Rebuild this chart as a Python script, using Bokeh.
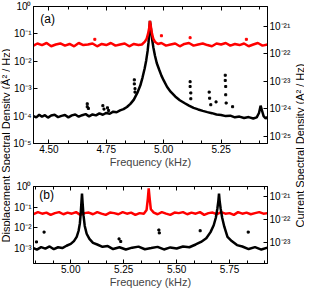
import math
from bokeh.plotting import figure
from bokeh.models import Range1d, LogScale, LogAxis, LinearAxis, FixedTicker, Label
from bokeh.layouts import row, column
from bokeh.embed import file_html
from bokeh.resources import INLINE

FONT = "Liberation Sans"
CUR_UNIT = 1e-22  # current PSD values below are given in units of 1e-22 A^2/Hz

# ---------------- panel (a) ----------------
freq_a = [4.433, 4.445, 4.458, 4.470, 4.483, 4.496, 4.510, 4.525, 4.540, 4.555,
          4.570, 4.585, 4.600, 4.615, 4.630, 4.645, 4.660, 4.675, 4.690, 4.705,
          4.720, 4.735, 4.750, 4.765, 4.780, 4.795, 4.810, 4.825, 4.840, 4.855,
          4.870, 4.885, 4.898, 4.908, 4.917, 4.924, 4.930, 4.934, 4.937, 4.940,
          4.943, 4.946, 4.950, 4.955, 4.962, 4.970, 4.980, 4.990, 5.000, 5.015,
          5.030, 5.050, 5.070, 5.090, 5.110, 5.130, 5.150, 5.170, 5.190, 5.210,
          5.230, 5.250, 5.270, 5.290, 5.310, 5.330, 5.350, 5.370, 5.390, 5.405,
          5.415, 5.422, 5.428, 5.435, 5.444, 5.452]
disp_a = [1.00e-4, 0.90e-4, 1.12e-4, 0.95e-4, 1.08e-4, 0.88e-4, 1.05e-4, 1.12e-4, 0.92e-4, 1.02e-4,
          1.10e-4, 0.90e-4, 1.06e-4, 1.14e-4, 0.95e-4, 1.08e-4, 1.18e-4, 0.98e-4, 1.15e-4, 1.06e-4,
          1.26e-4, 1.12e-4, 1.30e-4, 1.22e-4, 1.45e-4, 1.38e-4, 1.62e-4, 1.80e-4, 2.15e-4, 2.80e-4,
          4.0e-4, 7.0e-4, 1.3e-3, 2.6e-3, 5.5e-3, 1.1e-2, 2.4e-2, 5.0e-2, 0.12, 0.30,
          0.20, 0.11, 0.06, 3.2e-2, 1.6e-2, 8.5e-3, 5.0e-3, 3.0e-3, 2.0e-3, 1.15e-3,
          7.8e-4, 5.2e-4, 3.8e-4, 3.0e-4, 2.4e-4, 2.0e-4, 1.75e-4, 1.55e-4, 1.40e-4, 1.28e-4,
          1.15e-4, 1.10e-4, 1.00e-4, 1.04e-4, 0.90e-4, 0.96e-4, 0.85e-4, 0.92e-4, 0.82e-4, 0.90e-4,
          1.3e-4, 2.4e-4, 1.6e-4, 1.0e-4, 0.82e-4, 0.92e-4]
freq_ra = [4.433, 4.450, 4.470, 4.490, 4.510, 4.530, 4.550, 4.570, 4.590, 4.610,
           4.630, 4.650, 4.670, 4.690, 4.710, 4.730, 4.750, 4.770, 4.790, 4.810,
           4.830, 4.850, 4.870, 4.890, 4.905, 4.918, 4.926, 4.932, 4.937, 4.940,
           4.944, 4.949, 4.955, 4.963, 4.975, 4.990, 5.010, 5.030, 5.050, 5.070,
           5.090, 5.110, 5.130, 5.150, 5.170, 5.190, 5.210, 5.230, 5.250, 5.270,
           5.290, 5.310, 5.330, 5.350, 5.370, 5.390, 5.410, 5.430, 5.452]
cur_a = [2.0, 2.4, 2.1, 2.5, 1.9, 2.2, 2.4, 2.0, 2.3, 1.9,
         2.5, 2.1, 2.2, 2.4, 1.9, 2.3, 2.1, 2.5, 2.0, 2.2,
         2.4, 1.9, 2.3, 2.1, 2.2, 2.8, 3.6, 5.5, 9.0, 16.0,
         10.0, 5.5, 3.5, 2.7, 2.3, 2.5, 2.0, 2.2, 2.4, 1.9,
         2.3, 2.5, 2.0, 2.2, 2.4, 2.1, 1.9, 2.4, 2.2, 2.5,
         2.0, 2.3, 2.1, 2.4, 1.9, 2.2, 2.5, 2.0, 2.2]
out_a_f = [4.667, 4.667, 4.672, 4.735, 4.740, 4.755, 4.760, 4.872, 4.872, 4.875,
           4.875, 5.115, 5.115, 5.118, 5.118, 5.198, 5.200, 5.205, 5.228, 5.268,
           5.268, 5.270, 5.270, 5.272, 5.300]
out_a_v = [2.8e-4, 2.2e-4, 1.9e-4, 2.4e-4, 1.8e-4, 2.0e-4, 1.6e-4, 2.1e-3, 1.5e-3, 1.0e-3,
           7.5e-4, 1.8e-3, 1.2e-3, 7.0e-4, 4.3e-4, 7.5e-4, 4.5e-4, 2.6e-4, 3.3e-4, 3.1e-3,
           2.0e-3, 1.2e-3, 6.0e-4, 3.0e-4, 2.2e-4]
red_out_a_f = [4.700, 4.990, 5.115, 5.360]
red_out_a_v = [3.4, 4.6, 3.9, 3.4]

# ---------------- panel (b) ----------------
freq_b = [4.824, 4.840, 4.860, 4.880, 4.900, 4.920, 4.940, 4.960, 4.980, 5.000,
          5.015, 5.028, 5.037, 5.043, 5.047, 5.050, 5.053, 5.056, 5.060, 5.066,
          5.075, 5.088, 5.105, 5.125, 5.150, 5.175, 5.200, 5.230, 5.260, 5.290,
          5.320, 5.350, 5.380, 5.410, 5.440, 5.470, 5.500, 5.530, 5.560, 5.590,
          5.615, 5.640, 5.660, 5.675, 5.685, 5.692, 5.697, 5.700, 5.703, 5.708,
          5.715, 5.725, 5.740, 5.760, 5.785, 5.810, 5.840, 5.870, 5.900, 5.929]
disp_b = [1.0e-3, 0.85e-3, 1.12e-3, 0.95e-3, 1.2e-3, 0.88e-3, 1.1e-3, 1.0e-3, 1.3e-3, 1.6e-3,
          2.2e-3, 3.5e-3, 7.0e-3, 1.6e-2, 5.0e-2, 0.15, 0.45, 0.15, 4.0e-2, 1.2e-2,
          5.0e-3, 2.8e-3, 1.8e-3, 1.5e-3, 1.15e-3, 1.25e-3, 0.9e-3, 1.1e-3, 0.85e-3, 1.05e-3,
          1.18e-3, 0.88e-3, 1.0e-3, 1.15e-3, 0.86e-3, 1.08e-3, 0.95e-3, 1.2e-3, 1.1e-3, 1.5e-3,
          2.0e-3, 3.0e-3, 6.0e-3, 1.3e-2, 3.0e-2, 8.0e-2, 0.2, 0.45, 0.2, 8.0e-2,
          3.0e-2, 1.1e-2, 3.5e-3, 2.2e-3, 1.4e-3, 1.2e-3, 0.9e-3, 1.12e-3, 0.85e-3, 1.05e-3]
freq_rb = [4.824, 4.845, 4.865, 4.885, 4.905, 4.925, 4.945, 4.965, 4.985, 5.005,
           5.025, 5.045, 5.065, 5.085, 5.105, 5.125, 5.145, 5.165, 5.185, 5.205,
           5.225, 5.245, 5.265, 5.285, 5.305, 5.325, 5.345, 5.358, 5.364, 5.368,
           5.372, 5.378, 5.392, 5.410, 5.430, 5.450, 5.470, 5.490, 5.510, 5.530,
           5.550, 5.570, 5.590, 5.610, 5.630, 5.650, 5.670, 5.690, 5.710, 5.730,
           5.750, 5.770, 5.790, 5.810, 5.830, 5.850, 5.870, 5.890, 5.910, 5.929]
cur_b = [1.7, 2.1, 1.8, 2.0, 1.6, 1.9, 2.1, 1.7, 2.0, 1.8,
         2.1, 1.6, 1.9, 2.0, 1.7, 2.1, 1.8, 1.6, 2.0, 1.9,
         1.7, 2.1, 1.8, 2.0, 1.6, 1.9, 1.8, 2.6, 8.0, 22.0,
         9.0, 2.8, 2.0, 1.7, 2.1, 1.8, 1.6, 2.0, 1.9, 2.1,
         1.7, 2.0, 1.8, 2.1, 1.6, 1.9, 2.0, 1.7, 2.1, 1.8,
         1.9, 1.6, 2.1, 1.8, 2.0, 1.7, 1.9, 2.1, 1.8, 1.9]
out_b_f = [4.838, 4.874, 5.228, 5.236, 5.416, 5.418, 5.611, 5.838]
out_b_v = [2.0e-3, 6.0e-3, 2.8e-3, 2.1e-3, 7.6e-3, 5.5e-3, 7.0e-3, 6.0e-3]

# ---------------- ticks ----------------
xa_ticks = [4.50, 4.75, 5.00, 5.25]
xa_labels = ["4.50", "4.75", "5.00", "5.25"]
xb_ticks = [5.00, 5.25, 5.50, 5.75]
xb_labels = ["5.00", "5.25", "5.50", "5.75"]
la_ticks = [1e-5, 1e-4, 1e-3, 1e-2, 1e-1, 1.0]
la_labels = ["10⁻⁵", "10⁻⁴", "10⁻³", "10⁻²", "10⁻¹", "10⁰"]
ra_ticks = [1e-25, 1e-24, 1e-23, 1e-22, 1e-21]
ra_labels = ["10⁻²⁵", "10⁻²⁴", "10⁻²³", "10⁻²²", "10⁻²¹"]
lb_ticks = [1e-3, 1e-2, 1e-1, 1.0]
lb_labels = ["10⁻³", "10⁻²", "10⁻¹", "10⁰"]
rb_ticks = [1e-23, 1e-22, 1e-21]
rb_labels = ["10⁻²³", "10⁻²²", "10⁻²¹"]

xa_range = (4.433, 5.452)
xb_range = (4.824, 5.929)
la_range = (1e-5, 1.0)
ra_range = (10 ** -25.27, 10 ** -20.27)
lb_range = (10 ** -3.75, 1.0)
rb_range = (10 ** -23.89, 10 ** -20.575)


def minor_ticks(ticks, lo, hi, n=3):
    step = (ticks[1] - ticks[0]) / n
    out = []
    for k in range(-20, 60):
        t = ticks[0] + k * step
        if lo <= t <= hi and k % n != 0:
            out.append(t)
    return out


def style_axis(ax, ticks, labels, minor=None):
    ax.ticker = FixedTicker(ticks=ticks, minor_ticks=minor or [])
    ax.major_label_overrides = dict(zip(ticks, labels))
    ax.major_tick_in = 4
    ax.major_tick_out = 0
    ax.minor_tick_in = 3
    ax.minor_tick_out = 0
    ax.axis_line_color = "black"
    ax.major_tick_line_color = "black"
    ax.minor_tick_line_color = "black"
    ax.major_label_text_font = FONT
    ax.major_label_text_font_size = "10px"
    ax.major_label_text_color = "black"
    ax.major_label_standoff = 2


def make_panel(height, border_top, xr, yl, yr, xt, xl, lt, ll, rt, rl):
    p = figure(width=284, height=height, x_range=Range1d(*xr), y_range=Range1d(*yl),
               y_axis_type="log", toolbar_location=None, output_backend="svg",
               min_border_left=22, min_border_right=26, min_border_top=border_top,
               min_border_bottom=26, background_fill_color="white",
               border_fill_color="white")
    p.extra_y_ranges = {"cur": Range1d(*yr)}
    p.extra_y_scales = {"cur": LogScale()}
    p.xgrid.visible = False
    p.ygrid.visible = False
    p.outline_line_color = "black"
    p.outline_line_alpha = 1.0

    mt = minor_ticks(xt, xr[0], xr[1])
    bx = p.below[0]
    style_axis(bx, xt, xl, mt)
    bx.major_label_standoff = 1
    bx.axis_label = "Frequency (kHz)"
    bx.axis_label_text_font = FONT
    bx.axis_label_text_font_size = "11px"
    bx.axis_label_text_font_style = "normal"
    bx.axis_label_standoff = 0

    top = LinearAxis(ticker=FixedTicker(ticks=xt, minor_ticks=mt))
    style_axis(top, xt, ["" for _ in xt], mt)
    top.major_label_standoff = 0
    p.add_layout(top, "above")

    style_axis(p.left[0], lt, ll)

    right = LogAxis(y_range_name="cur")
    style_axis(right, rt, rl)
    p.add_layout(right, "right")
    return p


LW = 2.5

# ---- top panel ----
p1 = make_panel(170, 6, xa_range, la_range, ra_range, xa_ticks, xa_labels,
                la_ticks, la_labels, ra_ticks, ra_labels)
p1.line(freq_a, disp_a, color="black", line_width=LW)
p1.scatter(out_a_f, out_a_v, marker="square", size=2, color="black")
p1.line(freq_ra, [v * CUR_UNIT for v in cur_a], color="#ff0000", line_width=LW,
        y_range_name="cur")
p1.scatter(red_out_a_f, [v * CUR_UNIT for v in red_out_a_v], marker="square", size=2,
           color="#ff0000", y_range_name="cur")
p1.add_layout(Label(x=xa_range[0] + (xa_range[1] - xa_range[0]) * 7 / 243,
                    y=10 ** (-6 / 27.6), text="(a)", text_baseline="top",
                    text_font=FONT, text_font_size="12px", text_color="black"))

# ---- bottom panel ----
p2 = make_panel(120, 16, xb_range, lb_range, rb_range, xb_ticks, xb_labels,
                lb_ticks, lb_labels, rb_ticks, rb_labels)
p2.line(freq_rb, [v * CUR_UNIT for v in cur_b], color="#ff0000", line_width=LW,
        y_range_name="cur")
p2.line(freq_b, disp_b, color="black", line_width=LW)
p2.scatter(out_b_f, out_b_v, marker="square", size=2, color="black")
p2.add_layout(Label(x=xb_range[0] + (xb_range[1] - xb_range[0]) * 6 / 243,
                    y=10 ** (-2 / 20.8), text="(b)", text_baseline="top",
                    text_font=FONT, text_font_size="12px", text_color="black"))


def side_label(text):
    f = figure(width=10, height=290, x_range=Range1d(0, 1), y_range=Range1d(0, 1),
               toolbar_location=None, output_backend="svg", min_border=0,
               x_axis_location=None, y_axis_location=None)
    f.outline_line_color = None
    f.grid.visible = False
    f.add_layout(Label(x=0.5, y=0.5, text=text, angle=math.pi / 2,
                       text_align="center", text_baseline="middle",
                       text_font=FONT, text_font_size="11px", text_color="black"))
    return f


left_lab = side_label("Displacement Spectral Density (Å² / Hz)")
right_lab = side_label("Current Spectral Density (A² / Hz)")

layout = row(left_lab, column(p1, p2), right_lab)
open("out.html", "w").write(file_html(layout, INLINE))
